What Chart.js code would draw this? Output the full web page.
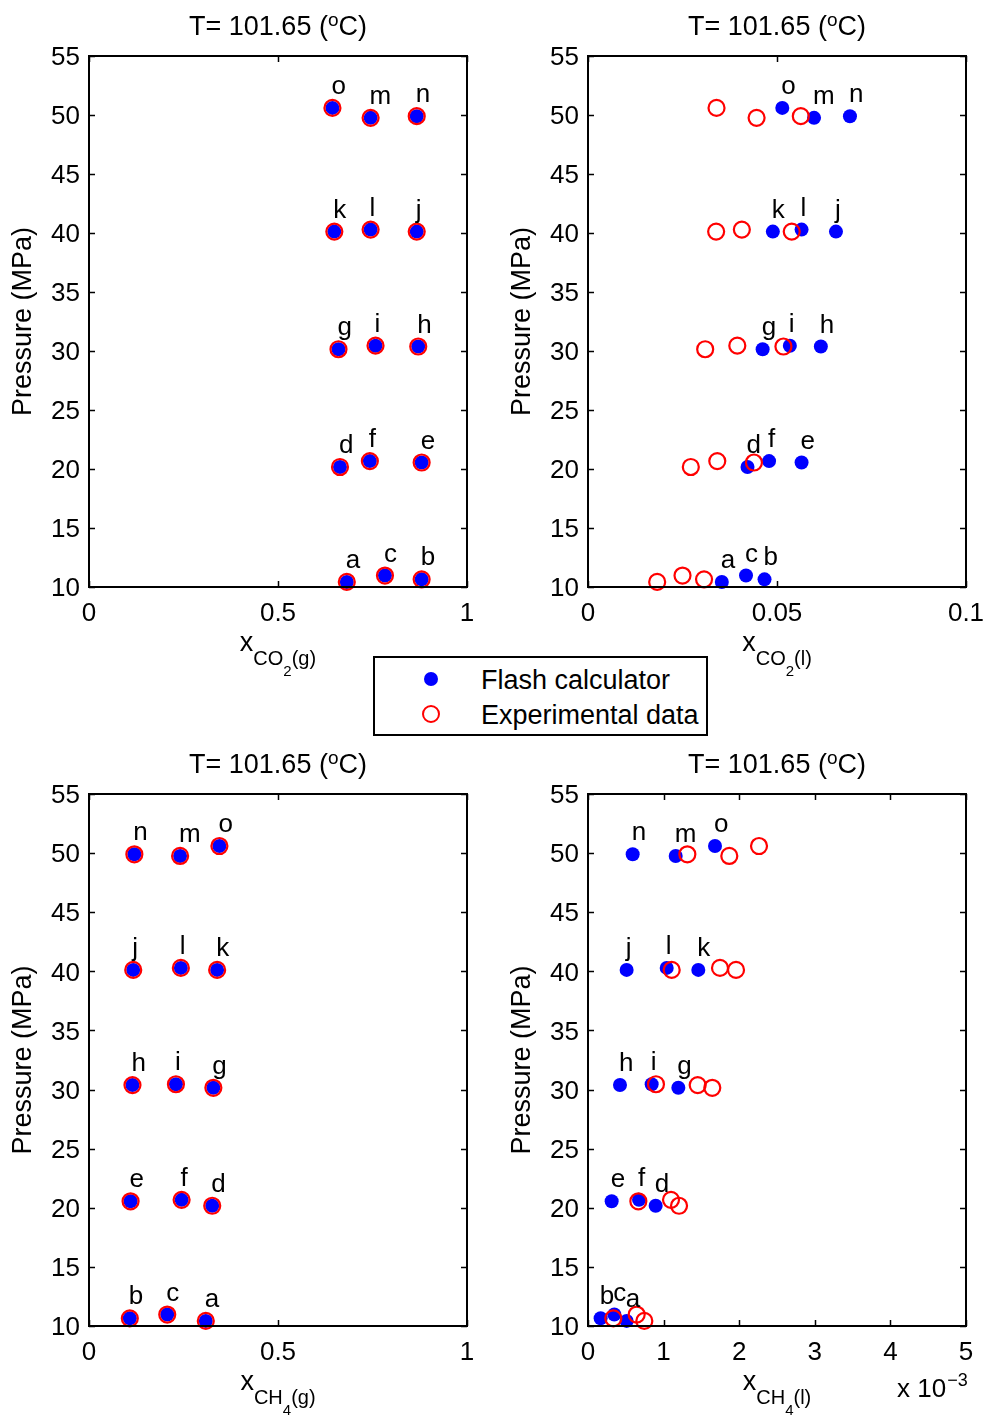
<!DOCTYPE html>
<html>
<head>
<meta charset="utf-8">
<script src="https://cdn.jsdelivr.net/npm/chart.js@4.4.1/dist/chart.umd.min.js"></script>
<style>
  html, body { margin: 0; padding: 0; background: #fff; }
  body { width: 984px; height: 1419px; position: relative; overflow: hidden;
         font-family: "Liberation Sans", Arial, sans-serif; }
  canvas { position: absolute; }
  #legend { position: absolute; left: 373px; top: 656px; width: 331px; height: 76px;
            border: 2px solid #000; background: #fff; z-index: 5; }
  #legend .mk { position: absolute; border-radius: 50%; box-sizing: border-box; }
  #legend .tx { position: absolute; left: 106px; font-size: 27px; line-height: 30px; color: #000; white-space: nowrap; }
</style>
</head>
<body>
<canvas id="c1" width="492" height="700" style="left:0;top:0"></canvas>
<canvas id="c2" width="492" height="700" style="left:492px;top:0"></canvas>
<canvas id="c3" width="492" height="681" style="left:0;top:738px"></canvas>
<canvas id="c4" width="492" height="681" style="left:492px;top:738px"></canvas>
<div id="legend">
  <div class="mk" style="left:49px;top:14px;width:14px;height:14px;background:#0000ff"></div>
  <div class="tx" style="top:7px">Flash calculator</div>
  <div class="mk" style="left:47px;top:47px;width:18px;height:18px;border:2px solid #ff0000"></div>
  <div class="tx" style="top:42px">Experimental data</div>
</div>
<script>
// ---------------- data ----------------
const LETTERS = ['a','b','c','d','e','f','g','h','i','j','k','l','m','n','o'];
const PRESSURE = [10.43,10.65,10.97,20.17,20.55,20.67,30.15,30.38,30.45,40.12,40.12,40.29,49.76,49.90,50.60];
const PRESSURE_TICKS = [10,15,20,25,30,35,40,45,50,55];

const X_CO2_G_FLASH = [0.682,0.880,0.783,0.664,0.880,0.743,0.660,0.871,0.758,0.867,0.649,0.745,0.745,0.867,0.644];
const X_CO2_G_EXP   = [0.682,0.880,0.783,0.664,0.880,0.743,0.660,0.871,0.758,0.867,0.649,0.745,0.745,0.867,0.644];

const X_CO2_L_FLASH = [0.0354,0.0467,0.0418,0.0422,0.0565,0.0479,0.0462,0.0616,0.0534,0.0656,0.0489,0.0565,0.0598,0.0693,0.0514];
const X_CO2_L_EXP   = [0.0183,0.0307,0.0250,0.0272,0.0439,0.0342,0.0310,0.0517,0.0395,0.0539,0.0339,0.0407,0.0446,0.0563,0.0340];

const X_CH4_G_FLASH = [0.309,0.108,0.207,0.326,0.110,0.245,0.329,0.115,0.230,0.117,0.339,0.243,0.241,0.120,0.345];
const X_CH4_G_EXP   = [0.309,0.108,0.207,0.326,0.110,0.245,0.329,0.115,0.230,0.117,0.339,0.243,0.241,0.120,0.345];

const X_CH4_L_FLASH = [0.000511,0.000167,0.000348,0.000895,0.000313,0.000675,0.001195,0.000423,0.000842,0.000511,0.001459,0.001041,0.001160,0.000591,0.001680];
const X_CH4_L_EXP   = [0.000745,0.000335,0.000644,0.001204,0.000666,0.001098,0.001644,0.001451,0.000899,0.001107,0.001958,0.001746,0.001869,0.001314,0.002262];

const TITLE_MAIN = 'T= 101.65 (';
const TITLE_SUP = 'o';
const TITLE_END = 'C)';
const SERIES_NAMES = ['Flash calculator', 'Experimental data'];

// ---------------- rendering ----------------
const FONT = '"Liberation Sans", Arial, Helvetica, sans-serif';
Chart.defaults.font.family = FONT;
Chart.defaults.color = '#000';

function f(sz) { return sz + 'px ' + FONT; }

const matlabPlugin = {
  id: 'matlab',
  afterDraw(chart, args, o) {
    const ctx = chart.ctx, a = chart.chartArea, sx = chart.scales.x, sy = chart.scales.y;
    ctx.save();
    // inward tick marks on all four sides
    ctx.strokeStyle = '#000';
    ctx.lineWidth = 1.5;
    const TLEN = 6;
    ctx.beginPath();
    sx.ticks.forEach(t => {
      const px = Math.round(sx.getPixelForValue(t.value)) + 0.5;
      ctx.moveTo(px, a.bottom); ctx.lineTo(px, a.bottom - TLEN);
      ctx.moveTo(px, a.top); ctx.lineTo(px, a.top + TLEN);
    });
    sy.ticks.forEach(t => {
      const py = Math.round(sy.getPixelForValue(t.value)) + 0.5;
      ctx.moveTo(a.left, py); ctx.lineTo(a.left + TLEN, py);
      ctx.moveTo(a.right, py); ctx.lineTo(a.right - TLEN, py);
    });
    ctx.stroke();
    // axes box
    ctx.lineWidth = 2;
    ctx.strokeRect(a.left, a.top, a.right - a.left, a.bottom - a.top);

    // point letters (left-aligned at flash point)
    const meta = chart.getDatasetMeta(1);
    ctx.fillStyle = '#000';
    ctx.font = f(26);
    ctx.textAlign = 'left';
    ctx.textBaseline = 'alphabetic';
    meta.data.forEach((el, i) => {
      ctx.fillText(LETTERS[i], el.x - 1, el.y - 14);
    });

    // title
    const cx = (a.left + a.right) / 2;
    const tb = a.top - 21;
    ctx.font = f(27);
    const w1 = ctx.measureText(TITLE_MAIN).width;
    const w3 = ctx.measureText(TITLE_END).width;
    ctx.font = f(19);
    const w2 = ctx.measureText(TITLE_SUP).width;
    let x0 = cx - (w1 + w2 + w3) / 2;
    ctx.font = f(27); ctx.fillText(TITLE_MAIN, x0, tb);
    ctx.font = f(19); ctx.fillText(TITLE_SUP, x0 + w1, tb - 9);
    ctx.font = f(27); ctx.fillText(TITLE_END, x0 + w1 + w2, tb);

    // x-axis label: x_{SUB_{SUBSUB}TAIL}
    const L = o.xlabel;
    const b = a.bottom;
    ctx.font = f(27); const wx = ctx.measureText('x').width;
    ctx.font = f(20); const ws = ctx.measureText(L.sub).width; const wt = ctx.measureText(L.tail).width;
    ctx.font = f(15); const wss = ctx.measureText(L.subsub).width;
    let lx = cx - (wx + ws + wss + wt) / 2;
    ctx.font = f(27); ctx.fillText('x', lx, b + 64); lx += wx;
    ctx.font = f(20); ctx.fillText(L.sub, lx, b + 78); lx += ws;
    ctx.font = f(15); ctx.fillText(L.subsub, lx, b + 89); lx += wss;
    ctx.font = f(20); ctx.fillText(L.tail, lx, b + 78);

    if (o.exponent) {
      ctx.font = f(26);
      const we = ctx.measureText('x 10').width;
      const ex = a.right - 69;
      ctx.fillText('x 10', ex, b + 71);
      ctx.font = f(18);
      ctx.fillText('\u22123', ex + we + 1, b + 60);
    }
    ctx.restore();
  }
};

function makePanel(id, xsFlash, xsExp, xmin, xmax, xstep, padLeft, padRight, padBottom, xlabel, exponent, xfmt) {
  const flash = xsFlash.map((v, i) => ({ x: v, y: PRESSURE[i] }));
  const exp = xsExp.map((v, i) => ({ x: v, y: PRESSURE[i] }));
  return new Chart(document.getElementById(id), {
    type: 'scatter',
    data: {
      datasets: [
        { label: SERIES_NAMES[1], data: exp, pointStyle: 'circle', pointRadius: 8, pointHoverRadius: 8,
          borderColor: '#ff0000', borderWidth: 2.2, backgroundColor: 'rgba(0,0,0,0)', order: 1, clip: false },
        { label: SERIES_NAMES[0], data: flash, pointStyle: 'circle', pointRadius: 7, pointHoverRadius: 7,
          borderWidth: 0, borderColor: '#0000ff', backgroundColor: '#0000ff', order: 2, clip: false }
      ]
    },
    options: {
      responsive: false, animation: false, devicePixelRatio: 1,
      layout: { padding: { left: padLeft, right: padRight, top: 56, bottom: padBottom } },
      plugins: {
        legend: { display: false }, tooltip: { enabled: false },
        matlab: { xlabel: xlabel, exponent: exponent }
      },
      scales: {
        x: {
          type: 'linear', min: xmin, max: xmax,
          grid: { display: false, drawTicks: false }, border: { display: false },
          ticks: { stepSize: xstep, padding: 11, font: { size: 26 }, color: '#000', maxRotation: 0,
                   callback: xfmt },
          afterFit(s) { s.height = 40; s.paddingLeft = 0; s.paddingRight = 0; }
        },
        y: {
          type: 'linear', min: 10, max: 55,
          grid: { display: false, drawTicks: false }, border: { display: false },
          afterBuildTicks(s) { s.ticks = PRESSURE_TICKS.map(v => ({ value: v })); },
          ticks: { padding: 9, labelOffset: 2, font: { size: 26 }, color: '#000' },
          title: { display: true, text: 'Pressure (MPa)', font: { size: 27 }, color: '#000',
                   padding: { top: 7, bottom: 0 } },
          afterFit(s) { s.width = 89; s.paddingTop = 0; s.paddingBottom = 0; }
        }
      }
    },
    plugins: [matlabPlugin]
  });
}

const fmtPlain = v => String(+v.toFixed(4));
const fmtMilli = v => String(Math.round(v * 1000));

makePanel('c1', X_CO2_G_FLASH, X_CO2_G_EXP, 0, 1, 0.5, 0, 25, 73,
  { sub: 'CO', subsub: '2', tail: '(g)' }, false, fmtPlain);
makePanel('c2', X_CO2_L_FLASH, X_CO2_L_EXP, 0, 0.1, 0.05, 7, 18, 73,
  { sub: 'CO', subsub: '2', tail: '(l)' }, false, fmtPlain);
makePanel('c3', X_CH4_G_FLASH, X_CH4_G_EXP, 0, 1, 0.5, 0, 25, 53,
  { sub: 'CH', subsub: '4', tail: '(g)' }, false, fmtPlain);
makePanel('c4', X_CH4_L_FLASH, X_CH4_L_EXP, 0, 0.005, 0.001, 7, 18, 53,
  { sub: 'CH', subsub: '4', tail: '(l)' }, true, fmtMilli);
</script>
</body>
</html>
